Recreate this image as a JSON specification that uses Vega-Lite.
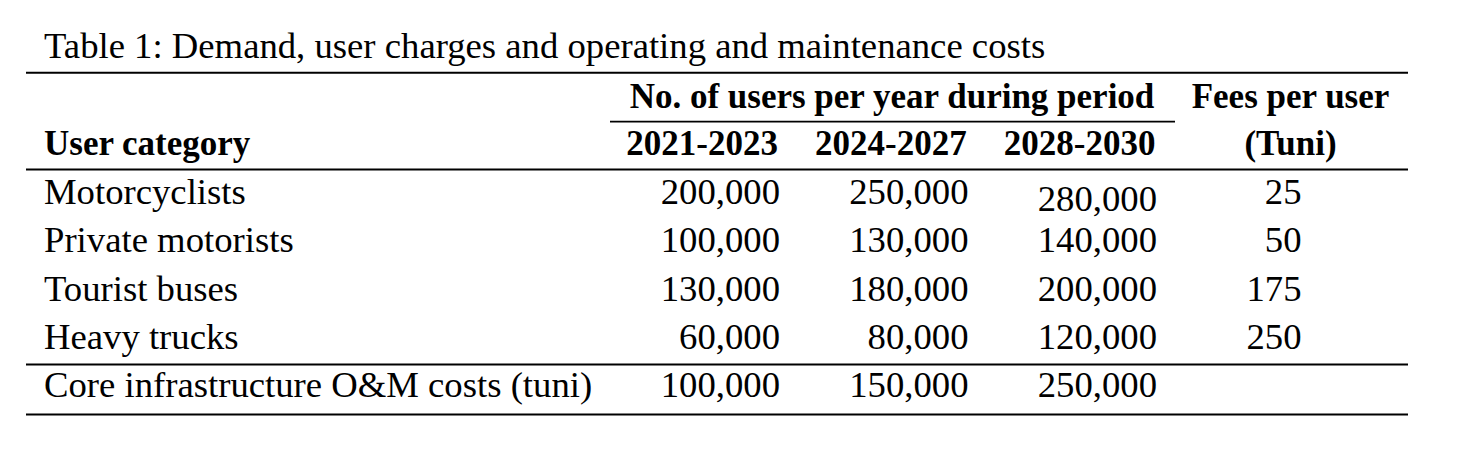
{
  "$schema": "https://vega.github.io/schema/vega-lite/v6.json",
  "width": 1483,
  "height": 451,
  "padding": 0,
  "autosize": "none",
  "background": "white",
  "config": {
    "view": {"stroke": null},
    "text": {"font": "Liberation Serif", "color": "black", "fontSize": 36.7, "baseline": "alphabetic"},
    "rule": {"color": "black", "strokeWidth": 2}
  },
  "datasets": {
    "users": [
      {"category": "Motorcyclists", "period": "2021-2023", "value": 200000},
      {"category": "Motorcyclists", "period": "2024-2027", "value": 250000},
      {"category": "Motorcyclists", "period": "2028-2030", "value": 280000},
      {"category": "Private motorists", "period": "2021-2023", "value": 100000},
      {"category": "Private motorists", "period": "2024-2027", "value": 130000},
      {"category": "Private motorists", "period": "2028-2030", "value": 140000},
      {"category": "Tourist buses", "period": "2021-2023", "value": 130000},
      {"category": "Tourist buses", "period": "2024-2027", "value": 180000},
      {"category": "Tourist buses", "period": "2028-2030", "value": 200000},
      {"category": "Heavy trucks", "period": "2021-2023", "value": 60000},
      {"category": "Heavy trucks", "period": "2024-2027", "value": 80000},
      {"category": "Heavy trucks", "period": "2028-2030", "value": 120000},
      {"category": "Core infrastructure O&M costs (tuni)", "period": "2021-2023", "value": 100000},
      {"category": "Core infrastructure O&M costs (tuni)", "period": "2024-2027", "value": 150000},
      {"category": "Core infrastructure O&M costs (tuni)", "period": "2028-2030", "value": 250000}
    ],
    "fees": [
      {"category": "Motorcyclists", "fee": 25},
      {"category": "Private motorists", "fee": 50},
      {"category": "Tourist buses", "fee": 175},
      {"category": "Heavy trucks", "fee": 250}
    ],
    "rows": [
      {"category": "Motorcyclists"},
      {"category": "Private motorists"},
      {"category": "Tourist buses"},
      {"category": "Heavy trucks"},
      {"category": "Core infrastructure O&M costs (tuni)"}
    ],
    "caption": [
      {"caption": "Table 1: Demand, user charges and operating and maintenance costs"}
    ],
    "groupHeads": [
      {"group": "users", "label": "No. of users per year during period"},
      {"group": "fees", "label": "Fees per user"}
    ]
  },
  "layer": [
    {
      "data": {"name": "caption"},
      "mark": {"type": "text", "align": "left"},
      "encoding": {
        "x": {"field": "caption", "type": "nominal", "scale": {"type": "point", "padding": 0, "range": [44, 44]}, "axis": null},
        "y": {"field": "caption", "type": "nominal", "scale": {"type": "point", "padding": 0, "range": [57.7, 57.7]}, "axis": null},
        "text": {"field": "caption"}
      }
    },
    {
      "data": {"name": "groupHeads"},
      "mark": {"type": "text", "align": "center", "fontWeight": "bold", "fontSize": 35},
      "encoding": {
        "x": {"field": "group", "type": "nominal", "scale": {"type": "point", "padding": 0, "domain": ["users", "fees"], "range": [892, 1290.5]}, "axis": null},
        "y": {"datum": "group header", "type": "nominal", "scale": {"type": "point", "padding": 0, "range": [107.7, 107.7]}, "axis": null},
        "text": {"field": "label"}
      }
    },
    {
      "data": {"name": "caption"},
      "mark": {"type": "text", "align": "left", "fontWeight": "bold", "fontSize": 35},
      "encoding": {
        "x": {"datum": "User category", "type": "nominal", "scale": {"type": "point", "padding": 0, "range": [44, 44]}, "axis": null},
        "y": {"datum": "User category", "type": "nominal", "scale": {"type": "point", "padding": 0, "range": [154.5, 154.5]}, "axis": null},
        "text": {"datum": "User category"}
      }
    },
    {
      "data": {"name": "users"},
      "transform": [{"filter": "datum.category === 'Motorcyclists'"}],
      "mark": {"type": "text", "align": "right", "fontWeight": "bold", "fontSize": 35},
      "encoding": {
        "x": {"field": "period", "type": "nominal", "scale": {"type": "point", "padding": 0, "domain": ["2021-2023", "2024-2027", "2028-2030"], "range": [778, 1155.5]}, "axis": null},
        "y": {"datum": "period header", "type": "nominal", "scale": {"type": "point", "padding": 0, "range": [154.5, 154.5]}, "axis": null},
        "text": {"field": "period"}
      }
    },
    {
      "data": {"name": "caption"},
      "mark": {"type": "text", "align": "center", "fontWeight": "bold", "fontSize": 35},
      "encoding": {
        "x": {"datum": "(Tuni)", "type": "nominal", "scale": {"type": "point", "padding": 0, "range": [1290.5, 1290.5]}, "axis": null},
        "y": {"datum": "(Tuni)", "type": "nominal", "scale": {"type": "point", "padding": 0, "range": [154.5, 154.5]}, "axis": null},
        "text": {"datum": "(Tuni)"}
      }
    },
    {
      "data": {"name": "rows"},
      "mark": {"type": "text", "align": "left"},
      "encoding": {
        "x": {"datum": "User category", "type": "nominal", "scale": {"type": "point", "padding": 0, "range": [44, 44]}, "axis": null},
        "y": {"field": "category", "type": "nominal", "sort": null, "scale": {"type": "point", "padding": 0, "domain": ["Motorcyclists", "Private motorists", "Tourist buses", "Heavy trucks", "Core infrastructure O&M costs (tuni)"], "range": [204.3, 396.7]}, "axis": null},
        "text": {"field": "category"}
      }
    },
    {
      "data": {"name": "users"},
      "transform": [{"filter": "!(datum.category === 'Motorcyclists' && datum.period === '2028-2030')"}],
      "mark": {"type": "text", "align": "right"},
      "encoding": {
        "x": {"field": "period", "type": "nominal", "scale": {"type": "point", "padding": 0, "domain": ["2021-2023", "2024-2027", "2028-2030"], "range": [780, 1157]}, "axis": null},
        "y": {"field": "category", "type": "nominal", "scale": {"type": "point", "padding": 0, "domain": ["Motorcyclists", "Private motorists", "Tourist buses", "Heavy trucks", "Core infrastructure O&M costs (tuni)"], "range": [204.3, 396.7]}, "axis": null},
        "text": {"field": "value", "type": "quantitative", "format": ","}
      }
    },
    {
      "data": {"name": "users"},
      "transform": [{"filter": "datum.category === 'Motorcyclists' && datum.period === '2028-2030'"}],
      "mark": {"type": "text", "align": "right", "dy": 7},
      "encoding": {
        "x": {"field": "period", "type": "nominal", "scale": {"type": "point", "padding": 0, "domain": ["2021-2023", "2024-2027", "2028-2030"], "range": [780, 1157]}, "axis": null},
        "y": {"field": "category", "type": "nominal", "scale": {"type": "point", "padding": 0, "domain": ["Motorcyclists", "Private motorists", "Tourist buses", "Heavy trucks", "Core infrastructure O&M costs (tuni)"], "range": [204.3, 396.7]}, "axis": null},
        "text": {"field": "value", "type": "quantitative", "format": ","}
      }
    },
    {
      "data": {"name": "fees"},
      "mark": {"type": "text", "align": "right"},
      "encoding": {
        "x": {"datum": "Fees per user (Tuni)", "type": "nominal", "scale": {"type": "point", "padding": 0, "range": [1301.5, 1301.5]}, "axis": null},
        "y": {"field": "category", "type": "nominal", "scale": {"type": "point", "padding": 0, "domain": ["Motorcyclists", "Private motorists", "Tourist buses", "Heavy trucks", "Core infrastructure O&M costs (tuni)"], "range": [204.3, 396.7]}, "axis": null},
        "text": {"field": "fee", "type": "quantitative"}
      }
    },
    {
      "data": {"name": "caption"},
      "mark": {"type": "rule"},
      "encoding": {
        "x": {"datum": "table left", "type": "nominal", "scale": {"type": "point", "padding": 0, "domain": ["table left", "table right"], "range": [26, 1408]}, "axis": null},
        "x2": {"datum": "table right"},
        "y": {"datum": "top rule", "type": "nominal", "scale": {"type": "point", "padding": 0, "range": [72.8, 72.8]}, "axis": null}
      }
    },
    {
      "data": {"name": "caption"},
      "mark": {"type": "rule", "strokeWidth": 1.7},
      "encoding": {
        "x": {"datum": "users left", "type": "nominal", "scale": {"type": "point", "padding": 0, "domain": ["users left", "users right"], "range": [610, 1175]}, "axis": null},
        "x2": {"datum": "users right"},
        "y": {"datum": "group rule", "type": "nominal", "scale": {"type": "point", "padding": 0, "range": [121.6, 121.6]}, "axis": null}
      }
    },
    {
      "data": {"name": "caption"},
      "mark": {"type": "rule"},
      "encoding": {
        "x": {"datum": "table left", "type": "nominal", "scale": {"type": "point", "padding": 0, "domain": ["table left", "table right"], "range": [26, 1408]}, "axis": null},
        "x2": {"datum": "table right"},
        "y": {"datum": "header rule", "type": "nominal", "scale": {"type": "point", "padding": 0, "range": [169.6, 169.6]}, "axis": null}
      }
    },
    {
      "data": {"name": "caption"},
      "mark": {"type": "rule"},
      "encoding": {
        "x": {"datum": "table left", "type": "nominal", "scale": {"type": "point", "padding": 0, "domain": ["table left", "table right"], "range": [26, 1408]}, "axis": null},
        "x2": {"datum": "table right"},
        "y": {"datum": "costs rule", "type": "nominal", "scale": {"type": "point", "padding": 0, "range": [364.5, 364.5]}, "axis": null}
      }
    },
    {
      "data": {"name": "caption"},
      "mark": {"type": "rule"},
      "encoding": {
        "x": {"datum": "table left", "type": "nominal", "scale": {"type": "point", "padding": 0, "domain": ["table left", "table right"], "range": [26, 1408]}, "axis": null},
        "x2": {"datum": "table right"},
        "y": {"datum": "bottom rule", "type": "nominal", "scale": {"type": "point", "padding": 0, "range": [414.4, 414.4]}, "axis": null}
      }
    }
  ],
  "resolve": {"scale": {"x": "independent", "y": "independent"}}
}
